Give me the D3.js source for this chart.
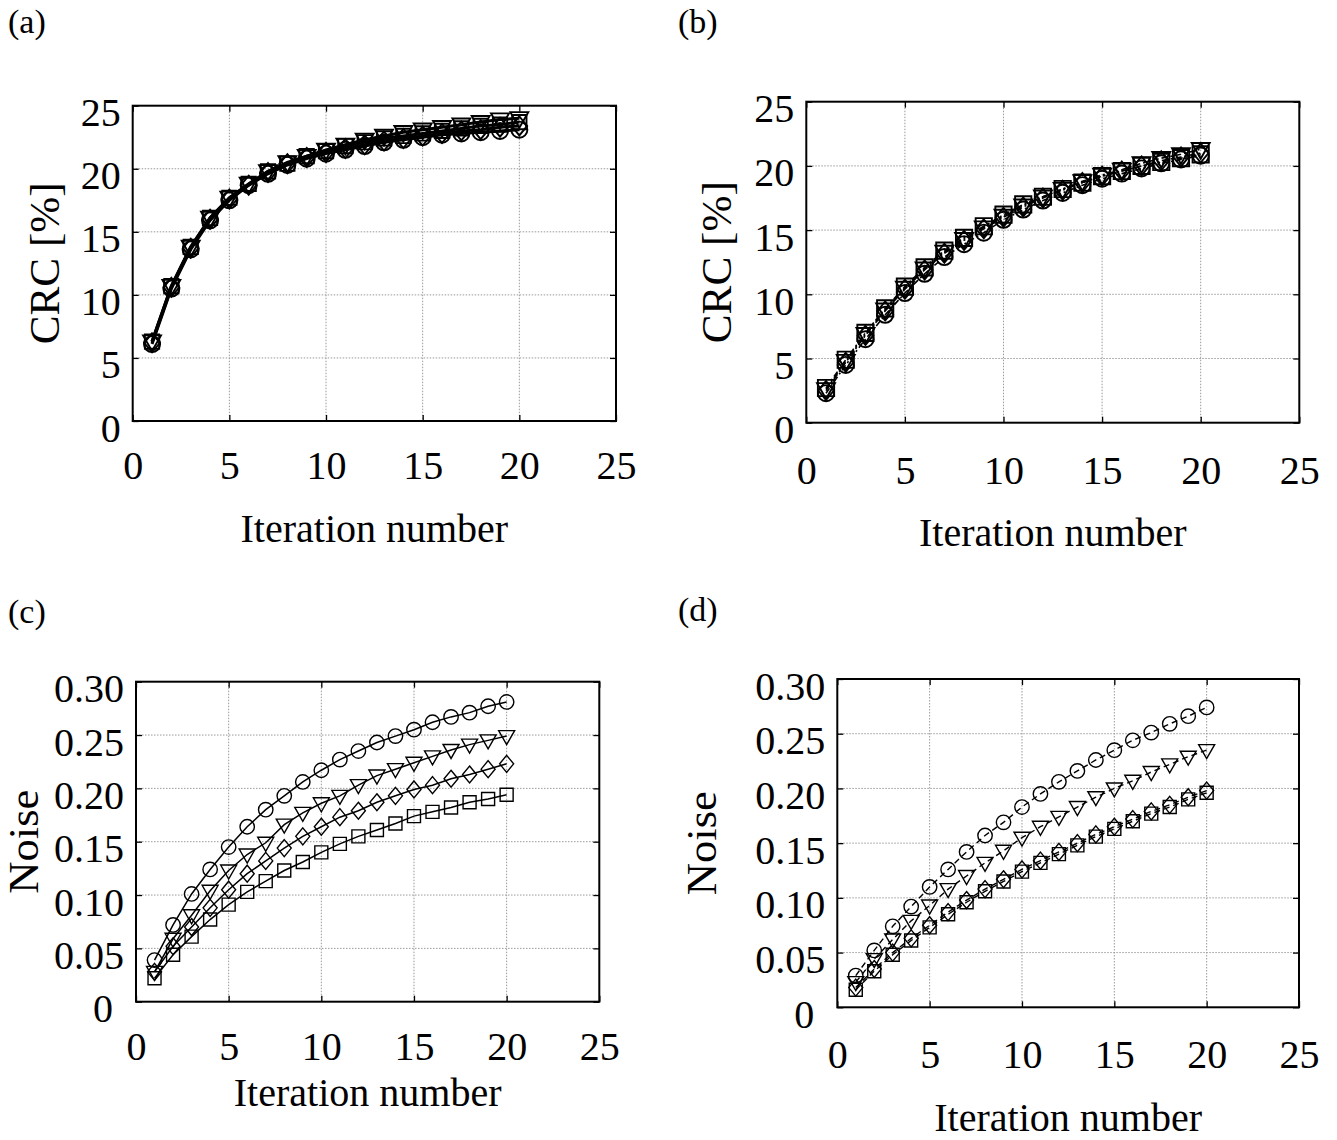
<!DOCTYPE html>
<html>
<head>
<meta charset="utf-8">
<script src="https://cdn.jsdelivr.net/npm/d3@7/dist/d3.min.js"></script>
<style>
  html, body { margin: 0; padding: 0; background: #fff; }
  svg { display: block; }
  text { font-family: "Liberation Serif", "Times New Roman", serif; fill: #000; }
</style>
</head>
<body>
<svg id="chart" width="1337" height="1140"></svg>
<script>
// ---------------- DATA ----------------
const iterations = [1,2,3,4,5,6,7,8,9,10,11,12,13,14,15,16,17,18,19,20];
const xTicks = [0,5,10,15,20,25];
const crcTicks = [0,5,10,15,20,25];
const crcTickLabels = ["0","5","10","15","20","25"];
const noiseTicks = [0,0.05,0.10,0.15,0.20,0.25,0.30];
const noiseTickLabels = ["0","0.05","0.10","0.15","0.20","0.25","0.30"];
const seriesNames = ["circle","triangle","diamond","square"];

// (a) CRC
const crcA_circle   = [6.1,10.5,13.6,15.9,17.5,18.7,19.6,20.3,20.8,21.2,21.5,21.8,22.1,22.3,22.5,22.7,22.8,22.9,23.0,23.1];
const crcA_triangle = [6.3,10.7,13.8,16.1,17.7,18.8,19.8,20.5,21.0,21.5,21.9,22.3,22.6,22.9,23.1,23.3,23.5,23.7,23.9,24.0];
const crcA_diamond  = [6.2,10.6,13.7,16.0,17.6,18.7,19.7,20.4,20.9,21.3,21.6,21.9,22.2,22.4,22.6,22.8,23.0,23.1,23.3,23.4];
const crcA_square   = [6.3,10.7,13.8,16.1,17.7,18.8,19.8,20.4,21.0,21.4,21.8,22.1,22.4,22.6,22.8,23.0,23.2,23.4,23.5,23.7];

// (b) CRC
const crcB_circle   = [2.3,4.5,6.5,8.4,10.1,11.6,12.9,13.9,14.8,15.8,16.6,17.3,17.9,18.5,19.0,19.4,19.8,20.2,20.5,20.8];
const crcB_triangle = [2.6,4.8,6.9,8.8,10.5,12.0,13.3,14.3,15.2,16.1,16.9,17.6,18.2,18.8,19.3,19.7,20.2,20.6,20.9,21.3];
const crcB_diamond  = [2.5,4.7,6.8,8.7,10.4,11.9,13.2,14.2,15.1,16.0,16.8,17.5,18.1,18.7,19.2,19.6,20.0,20.4,20.7,21.0];
const crcB_square   = [2.7,4.9,7.0,8.9,10.6,12.1,13.4,14.4,15.3,16.2,17.0,17.6,18.2,18.7,19.2,19.6,20.0,20.3,20.6,20.9];

// (c) Noise
const noiseC_circle   = [0.039,0.072,0.101,0.124,0.145,0.164,0.180,0.193,0.206,0.217,0.227,0.235,0.243,0.249,0.255,0.262,0.267,0.271,0.277,0.281];
const noiseC_triangle = [0.028,0.059,0.081,0.104,0.123,0.138,0.149,0.166,0.177,0.186,0.193,0.203,0.212,0.218,0.224,0.230,0.236,0.241,0.245,0.249];
const noiseC_diamond  = [0.028,0.052,0.070,0.088,0.105,0.120,0.132,0.144,0.155,0.164,0.173,0.179,0.187,0.193,0.199,0.203,0.209,0.213,0.218,0.223];
const noiseC_square   = [0.022,0.044,0.061,0.077,0.091,0.103,0.113,0.123,0.131,0.140,0.148,0.155,0.161,0.167,0.174,0.178,0.182,0.187,0.190,0.194];

// (d) Noise
const noiseD_circle   = [0.029,0.052,0.074,0.092,0.110,0.126,0.142,0.157,0.169,0.183,0.195,0.206,0.216,0.226,0.235,0.244,0.251,0.259,0.266,0.274];
const noiseD_triangle = [0.023,0.044,0.062,0.079,0.093,0.108,0.120,0.132,0.143,0.155,0.165,0.174,0.183,0.192,0.200,0.207,0.215,0.222,0.229,0.235];
const noiseD_diamond  = [0.018,0.035,0.050,0.063,0.075,0.087,0.098,0.108,0.117,0.126,0.134,0.142,0.150,0.158,0.165,0.172,0.179,0.185,0.192,0.198];
const noiseD_square   = [0.016,0.033,0.048,0.061,0.073,0.085,0.096,0.106,0.115,0.124,0.132,0.140,0.148,0.156,0.163,0.170,0.177,0.183,0.190,0.196];

// ---------------- LAYOUT ----------------
const panels = [
  { tag:"(a)", tagX:8, tagY:33, left:132.7, top:105.7, right:616, bottom:421,
    yMax:25, yTicks:crcTicks, yLabels:crcTickLabels, ylabel:"CRC [%]", ylabelX:59, ylabelLen:162,
    xlabelY:542, xPad:30, lineW:3, dash:null, markW:1.9, mScale:1.12, sqScale:1.1,
    series:[crcA_circle, crcA_triangle, crcA_diamond, crcA_square] },
  { tag:"(b)", tagX:678, tagY:33, left:806.3, top:101.7, right:1299.3, bottom:422.7,
    yMax:25, yTicks:crcTicks, yLabels:crcTickLabels, ylabel:"CRC [%]", ylabelX:731, ylabelLen:162,
    xlabelY:546, xPad:33, lineW:1.6, dash:"6,3,2,3", markW:1.9, mScale:1.12, sqScale:1.25,
    series:[crcB_circle, crcB_triangle, crcB_diamond, crcB_square] },
  { tag:"(c)", tagX:8, tagY:623, left:136, top:681.7, right:599.3, bottom:1001.7,
    yMax:0.30, yTicks:noiseTicks, yLabels:noiseTickLabels, ylabel:"Noise", ylabelX:38, ylabelLen:104,
    xlabelY:1106, xPad:30, lineW:1.5, dash:null, markW:1.4, mScale:1, sqScale:1,
    series:[noiseC_circle, noiseC_triangle, noiseC_diamond, noiseC_square] },
  { tag:"(d)", tagX:678, tagY:621, left:837.3, top:679, right:1299, bottom:1007.3,
    yMax:0.30, yTicks:noiseTicks, yLabels:noiseTickLabels, ylabel:"Noise", ylabelX:716, ylabelLen:104,
    xlabelY:1131, xPad:32, lineW:1.4, dash:"6,4", markW:1.4, mScale:1, sqScale:1,
    series:[noiseD_circle, noiseD_triangle, noiseD_diamond, noiseD_square] }
];

const svg = d3.select("#chart");
const tickFont = 40;

function markerPath(name, s, sq) {
  if (name === "circle") return d3.symbol().type(d3.symbolCircle).size(Math.PI*Math.pow(7.2*s,2))();
  if (name === "triangle") return `M${-8*s},${-5.5*s}L${8*s},${-5.5*s}L0,${8.5*s}Z`;
  if (name === "diamond") return `M0,${-8.5*s}L${7*s},0L0,${8.5*s}L${-7*s},0Z`;
  const h = 6.5*sq;
  return `M${-h},${-h}L${h},${-h}L${h},${h}L${-h},${h}Z`;
}

panels.forEach(p => {
  const x = d3.scaleLinear().domain([0,25]).range([p.left, p.right]);
  const y = d3.scaleLinear().domain([0,p.yMax]).range([p.bottom, p.top]);
  const g = svg.append("g");

  // panel tag
  g.append("text").attr("x", p.tagX).attr("y", p.tagY)
    .attr("font-size", 34).text(p.tag);

  // grid
  const grid = g.append("g").attr("stroke", "#9a9a9a").attr("stroke-width", 1)
    .attr("stroke-dasharray", "1.5,1.5");
  grid.selectAll(".vx").data(xTicks.filter(t => t > 0 && t < 25)).enter()
    .append("line").attr("x1", d => x(d)).attr("x2", d => x(d))
    .attr("y1", p.top).attr("y2", p.bottom);
  grid.selectAll(".hy").data(p.yTicks.filter(t => t > 0 && t < p.yMax - 1e-9)).enter()
    .append("line").attr("y1", d => y(d)).attr("y2", d => y(d))
    .attr("x1", p.left).attr("x2", p.right);

  // axes
  const xb = g.append("g").attr("transform", `translate(0,${p.bottom})`)
    .call(d3.axisBottom(x).tickValues(xTicks).tickSizeInner(-6).tickSizeOuter(0)
      .tickPadding(p.xPad).tickFormat(d3.format("d")));
  const yl = g.append("g").attr("transform", `translate(${p.left},0)`)
    .call(d3.axisLeft(y).tickValues(p.yTicks).tickSizeInner(-6).tickSizeOuter(0)
      .tickPadding(12).tickFormat((d,i) => p.yLabels[i]));
  const xt = g.append("g").attr("transform", `translate(0,${p.top})`)
    .call(d3.axisTop(x).tickValues(xTicks).tickSizeInner(-6).tickSizeOuter(0).tickFormat(""));
  const yr = g.append("g").attr("transform", `translate(${p.right},0)`)
    .call(d3.axisRight(y).tickValues(p.yTicks).tickSizeInner(-6).tickSizeOuter(0).tickFormat(""));
  [xb, yl, xt, yr].forEach(a => {
    a.select(".domain").remove();
    a.selectAll("line").attr("stroke", "#000").attr("stroke-width", 1.3);
    a.selectAll("text").attr("font-size", tickFont)
      .attr("font-family", "'Liberation Serif', 'Times New Roman', serif").attr("fill", "#000");
  });
  yl.selectAll("text").attr("dy", "20px")
    .attr("dx", (d,i) => (p.yMax < 1 && p.yLabels[i] === "0") ? -11 : 0);

  // frame
  g.append("rect").attr("x", p.left).attr("y", p.top)
    .attr("width", p.right - p.left).attr("height", p.bottom - p.top)
    .attr("fill", "none").attr("stroke", "#000").attr("stroke-width", 2);

  // axis labels
  g.append("text").attr("x", (p.left + p.right)/2).attr("y", p.xlabelY)
    .attr("text-anchor", "middle").attr("font-size", 40).text("Iteration number");
  g.append("text")
    .attr("transform", `translate(${p.ylabelX},${(p.top + p.bottom)/2}) rotate(-90)`)
    .attr("text-anchor", "middle").attr("font-size", 42)
    .attr("textLength", p.ylabelLen).attr("lengthAdjust", "spacingAndGlyphs")
    .text(p.ylabel);

  // series
  const line = d3.line().x((d,i) => x(iterations[i])).y(d => y(d));
  p.series.forEach((vals, si) => {
    const sg = g.append("g");
    sg.append("path").datum(vals).attr("d", line)
      .attr("fill", "none").attr("stroke", "#000").attr("stroke-width", p.lineW)
      .attr("stroke-dasharray", p.dash);
    sg.selectAll("path.m").data(vals).enter().append("path").attr("class", "m")
      .attr("d", markerPath(seriesNames[si], p.mScale, p.sqScale))
      .attr("transform", (d,i) => `translate(${x(iterations[i])},${y(d)})`)
      .attr("fill", "none").attr("stroke", "#000").attr("stroke-width", p.markW);
  });
});
</script>
</body>
</html>
